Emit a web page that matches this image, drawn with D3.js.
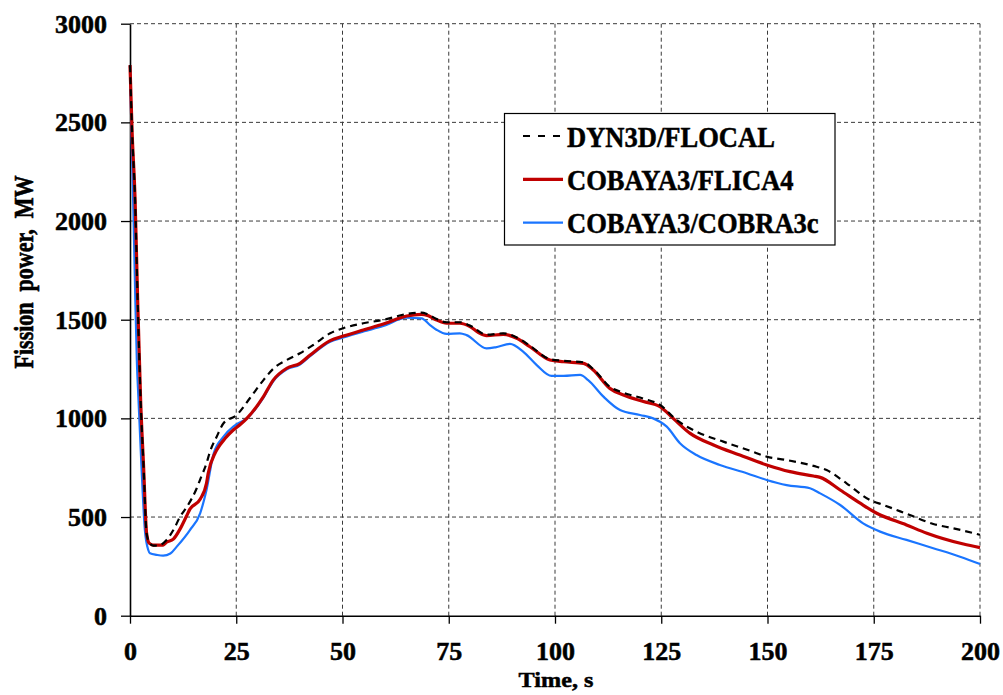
<!DOCTYPE html>
<html><head><meta charset="utf-8">
<script src="https://cdn.jsdelivr.net/npm/d3@7"></script>
<style>body{margin:0;background:#fff}svg{display:block}text{font-family:"Times New Roman","Liberation Serif",serif;font-weight:bold;fill:#000;stroke:#000;stroke-width:0.5px}</style>
</head><body>
<svg id="c" width="1003" height="695"></svg>
<script>
const xTicks=[0,25,50,75,100,125,150,175,200];
const yTicks=[0,500,1000,1500,2000,2500,3000];
const seriesNames=["DYN3D/FLOCAL","COBAYA3/FLICA4","COBAYA3/COBRA3c"];
const dyn3dT=[0,0.5,1.2,1.8,2.5,3.2,3.9,4.6,5.5,7,8.6,10.2,11.8,13.4,15.7,16.5,18,18.8,20.4,22,25.1,28.2,31.4,34.1,36.9,40,43.1,47.1,50.2,54.9,59.6,65.1,68.6,70,72,74.5,77.6,80,83.9,87.8,91,94.1,98.8,102,106.7,109,112.9,116.1,120.8,124.7,128.6,133.3,139.6,145.9,149.8,154.5,160.8,163.9,168.6,174.1,177.3,183.5,189,193.7,200];
const dyn3dP=[2790,2450,2107,1600,1093,755,419,368,355,358,384,434,502,552,646,690,772,830,907,975,1017,1102,1194,1259,1296,1330,1372,1431,1457,1482,1499,1529,1536,1528,1505,1487,1487,1470,1424,1431,1410,1368,1300,1292,1284,1250,1160,1130,1100,1068,992,932,882,836,806,789,759,738,671,586,561,510,465,443,410];
const flica4T=[0,0.5,1.2,1.8,2.5,3.2,3.9,4.5,5.5,7.8,8.6,10.2,11.8,13.3,14.1,16.5,18,18.4,20,20.4,22.4,24.3,26,27.5,31.4,33.7,36.9,40,42.4,47.1,50.2,54.9,59.6,65.1,68.6,70,72,74.5,77.6,80,82,83.9,87.8,91,94.1,98.8,102,106.7,109,112.9,116.1,120.8,124.7,127.8,131.8,137.3,143.5,149.8,155.3,160.8,162.4,167.1,171.8,175.7,182.7,187.5,196.1,200];
const flica4P=[2790,2450,2107,1600,1093,755,419,368,358,358,372,388,440,505,540,590,671,722,823,840,899,941,970,1000,1110,1194,1254,1279,1321,1394,1417,1448,1478,1519,1527,1522,1500,1482,1482,1465,1435,1419,1426,1406,1363,1296,1287,1279,1245,1152,1118,1085,1059,1000,924,865,814,764,730,708,701,637,570,519,460,418,363,345];
const cobraT=[0,0.4,0.8,1.2,1.6,2,2.7,3.5,4.3,4.7,6.3,7.8,9.5,11,14.1,16.5,18,19.7,22,24.3,25.5,27.5,31.4,33.7,36.9,40,42.4,47.1,50.2,54.9,59.6,65.1,68.6,70.6,72.2,74.5,77.6,79.2,83.9,86,89.4,92.5,95.7,99.2,102,105.9,107.8,111.4,115.3,120,123.1,126.3,129.4,133.3,138.8,145.1,149.8,154.5,160,162.4,167.1,172.5,176.5,182.7,189,195.3,200];
const cobraP=[2790,2400,2050,1650,1300,1093,755,434,333,316,308,304,315,350,434,519,637,823,907,958,975,1000,1105,1188,1248,1273,1315,1388,1410,1440,1468,1510,1507,1473,1448,1428,1431,1422,1355,1360,1377,1338,1270,1215,1215,1220,1194,1110,1042,1017,1000,958,874,814,764,722,688,662,646,620,561,468,426,384,342,299,262];

const svg=d3.select("#c");
const x=d3.scaleLinear().domain([0,200]).range([130,980]);
const y=d3.scaleLinear().domain([0,3000]).range([615.7,23.7]);

// grid
const grid=svg.append("g").attr("stroke","#3a3a3a").attr("stroke-width",1).attr("stroke-dasharray","4,3").attr("fill","none");
grid.selectAll(".gx").data(xTicks.filter(d=>d>0)).join("line")
  .attr("x1",d=>x(d)).attr("x2",d=>x(d)).attr("y1",y(0)).attr("y2",y(3000));
grid.selectAll(".gy").data(yTicks.filter(d=>d>0)).join("line")
  .attr("x1",x(0)).attr("x2",x(200)).attr("y1",d=>y(d)).attr("y2",d=>y(d));

// axes
const ax=svg.append("g").attr("transform",`translate(0,${y(0)})`)
  .call(d3.axisBottom(x).tickValues(xTicks).tickSize(8).tickSizeOuter(0).tickFormat(d3.format("d")));
const ay=svg.append("g").attr("transform",`translate(${x(0)},0)`)
  .call(d3.axisLeft(y).tickValues(yTicks).tickSize(9).tickSizeOuter(0).tickFormat(d3.format("d")));
[ax,ay].forEach(a=>{a.select(".domain").attr("stroke","#000").attr("stroke-width",1.6);
  a.selectAll(".tick line").attr("stroke","#000").attr("stroke-width",1.3);
  a.attr("font-family",null).attr("font-size",null);
  a.selectAll("text").style("font-size","25px");});
ax.selectAll("text").attr("y",null).attr("dy",null).attr("transform","translate(0,44) scale(1.04,1)");
ay.selectAll("text").attr("x",null).attr("dy",null).attr("transform","translate(-23,8.5) scale(1.04,1)");

// lines
const line=d3.line().x(d=>x(d[0])).y(d=>y(d[1])).curve(d3.curveMonotoneX);
const zip=(a,b)=>a.map((v,i)=>[v,b[i]]);
const plot=svg.append("g").attr("fill","none").attr("stroke-linejoin","round");
plot.append("path").datum(zip(cobraT,cobraP)).attr("d",line).attr("stroke","#1a75ff").attr("stroke-width",2.2);
plot.append("path").datum(zip(flica4T,flica4P)).attr("d",line).attr("stroke","#c00000").attr("stroke-width",3.2);
plot.append("path").datum(zip(dyn3dT,dyn3dP)).attr("d",line).attr("stroke","#000").attr("stroke-width",2.2).attr("stroke-dasharray","7,5");

// axis titles
svg.append("text").attr("transform","translate(556,687) scale(1.1,1)").attr("text-anchor","middle").style("font-size","22px").text("Time, s");
svg.append("text").attr("transform","translate(33,272) scale(1.25,1) rotate(-90)").attr("text-anchor","middle").style("font-size","22px").attr("xml:space","preserve").text("Fission  power,  MW");

// legend
const lg=svg.append("g");
lg.append("rect").attr("x",504.5).attr("y",113.5).attr("width",330.5).attr("height",131.5).attr("fill","#fff").attr("stroke","#000").attr("stroke-width",1.2);
const styles=[{c:"#000",w:2.2,da:"7,8"},{c:"#c00000",w:3.2,da:null},{c:"#1a75ff",w:2.2,da:null}];
seriesNames.forEach((n,i)=>{
  const yy=136+i*43.3;
  lg.append("line").attr("x1",523).attr("x2",563).attr("y1",yy).attr("y2",yy)
    .attr("stroke",styles[i].c).attr("stroke-width",styles[i].w).attr("stroke-dasharray",styles[i].da);
  lg.append("text").attr("transform",`translate(567,${yy+10.5}) scale(0.9,1)`).style("font-size","29.5px").text(n);
});
</script>
</body></html>
